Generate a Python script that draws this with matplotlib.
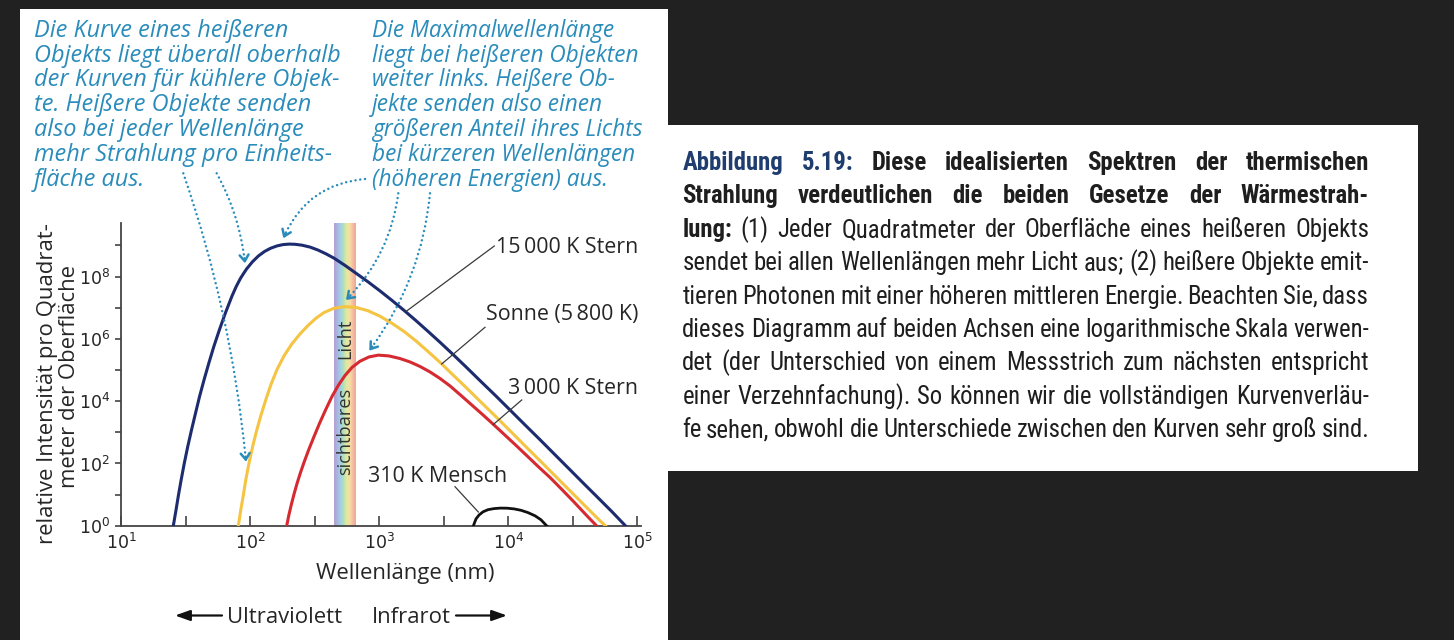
import matplotlib.pyplot as plt
import numpy as np
from matplotlib import font_manager
from matplotlib.patches import Rectangle, FancyArrowPatch
from matplotlib.lines import Line2D
from matplotlib.colors import LinearSegmentedColormap
from matplotlib.ticker import NullFormatter

# Values, as log10(wavelength / nm) and log10(relative intensity)
logwl_15000 = [1.404, 1.425, 1.444, 1.466, 1.489, 1.516, 1.545, 1.576, 1.607, 1.642, 1.679, 1.718, 1.761,
               1.807, 1.857, 1.890, 1.925, 1.971, 2.018, 2.064, 2.111, 2.157, 2.208, 2.254, 2.301, 2.347,
               2.402, 2.464, 2.526, 2.588, 2.650, 2.735, 2.820, 2.913, 3.006, 3.099, 3.192, 3.285, 3.378,
               3.471, 3.564, 3.673, 3.781, 3.898, 4.014, 4.130, 4.247, 4.363, 4.479, 4.595, 4.712, 4.805,
               4.909]
logint_15000 = [0.0, 0.507, 0.989, 1.502, 2.006, 2.546, 3.075, 3.612, 4.144, 4.681, 5.217, 5.753, 6.286,
                6.822, 7.355, 7.666, 7.945, 8.238, 8.475, 8.661, 8.803, 8.905, 8.982, 9.024, 9.040, 9.034,
                9.005, 8.944, 8.848, 8.726, 8.588, 8.356, 8.106, 7.830, 7.538, 7.233, 6.915, 6.584, 6.241,
                5.891, 5.531, 5.098, 4.661, 4.193, 3.717, 3.239, 2.761, 2.279, 1.798, 1.316, 0.835, 0.449,
                0.0]

logwl_5800 = [1.908, 1.927, 1.947, 1.967, 1.991, 2.018, 2.049, 2.084, 2.123, 2.161, 2.208, 2.262, 2.320,
              2.386, 2.448, 2.510, 2.572, 2.650, 2.735, 2.820, 2.913, 3.006, 3.099, 3.192, 3.285, 3.378,
              3.485, 3.564, 3.673, 3.781, 3.898, 4.014, 4.130, 4.247, 4.363, 4.479, 4.595, 4.712, 4.754]
logint_5800 = [0.0, 0.507, 0.989, 1.502, 2.016, 2.530, 3.043, 3.557, 4.071, 4.536, 5.018, 5.451, 5.820,
               6.157, 6.427, 6.661, 6.844, 6.982, 7.034, 7.008, 6.902, 6.726, 6.498, 6.238, 5.933, 5.595,
               5.194, 4.873, 4.440, 4.000, 3.528, 3.050, 2.568, 2.087, 1.605, 1.124, 0.642, 0.161, 0.0]

logwl_3000 = [2.283, 2.299, 2.318, 2.340, 2.363, 2.390, 2.421, 2.456, 2.495, 2.537, 2.584, 2.634, 2.685,
              2.735, 2.789, 2.851, 2.921, 2.993, 3.076, 3.161, 3.239, 3.316, 3.394, 3.471, 3.549, 3.634,
              3.719, 3.805, 3.890, 3.975, 4.061, 4.146, 4.231, 4.324, 4.417, 4.510, 4.603, 4.685]
logint_3000 = [0.0, 0.331, 0.668, 1.021, 1.358, 1.711, 2.080, 2.466, 2.867, 3.284, 3.717, 4.151, 4.520,
               4.825, 5.082, 5.281, 5.419, 5.477, 5.451, 5.368, 5.258, 5.114, 4.937, 4.729, 4.488, 4.183,
               3.872, 3.557, 3.236, 2.909, 2.578, 2.244, 1.907, 1.551, 1.162, 0.764, 0.353, 0.0]

logwl_310 = [3.730, 3.750, 3.774, 3.805, 3.843, 3.890, 3.940, 3.991, 4.045, 4.099, 4.153, 4.208, 4.254, 4.298]
logint_310 = [0.0, 0.218, 0.347, 0.449, 0.517, 0.552, 0.568, 0.565, 0.543, 0.498, 0.424, 0.321, 0.193, 0.0]

visible_nm = [450, 660]
band_colors = ['#b4a2d2', '#a6b7e3', '#a2d1e3', '#b3dfb6', '#e2e9a2', '#f6dca2', '#f4bea1', '#eea795']

x_major = [1e1, 1e2, 1e3, 1e4, 1e5]
x_minor = [31.6, 316, 3162, 31623]
x_labels = [r'$\mathregular{10^{1}}$', r'$\mathregular{10^{2}}$', r'$\mathregular{10^{3}}$',
            r'$\mathregular{10^{4}}$', r'$\mathregular{10^{5}}$']
y_major = [1e0, 1e2, 1e4, 1e6, 1e8]
y_minor = [1e1, 1e3, 1e5, 1e7, 1e9]
y_labels = [r'$\mathregular{10^{0}}$', r'$\mathregular{10^{2}}$', r'$\mathregular{10^{4}}$',
            r'$\mathregular{10^{6}}$', r'$\mathregular{10^{8}}$']

note_left = ['Die Kurve eines heißeren', 'Objekts liegt überall oberhalb', 'der Kurven für kühlere Objek-',
             'te. Heißere Objekte senden', 'also bei jeder Wellenlänge', 'mehr Strahlung pro Einheits-',
             'fläche aus.']
note_right = ['Die Maximalwellenlänge', 'liegt bei heißeren Objekten', 'weiter links. Heißere Ob-',
              'jekte senden also einen', 'größeren Anteil ihres Lichts', 'bei kürzeren Wellenlängen',
              '(höheren Energien) aus.']

caption_lines = [
    [('Abbildung 5.19:', 'title'), ('Diese idealisierten Spektren der thermischen', 'bold')],
    [('Strahlung verdeutlichen die beiden Gesetze der Wärmestrah-', 'bold')],
    [('lung:', 'bold'), ('(1) Jeder Quadratmeter der Oberfläche eines heißeren Objekts', 'reg')],
    [('sendet bei allen Wellenlängen mehr Licht aus; (2) heißere Objekte emit-', 'reg')],
    [('tieren Photonen mit einer höheren mittleren Energie. Beachten Sie, dass', 'reg')],
    [('dieses Diagramm auf beiden Achsen eine logarithmische Skala verwen-', 'reg')],
    [('det (der Unterschied von einem Messstrich zum nächsten entspricht', 'reg')],
    [('einer Verzehnfachung). So können wir die vollständigen Kurvenverläu-', 'reg')],
    [('fe sehen, obwohl die Unterschiede zwischen den Kurven sehr groß sind.', 'reg')],
]


def have_font(name):
    try:
        font_manager.findfont(font_manager.FontProperties(family=name), fallback_to_default=False)
        return True
    except ValueError:
        return False


CHART = ['Open Sans', 'DejaVu Sans']
cap_font = next((f for f in ['Liberation Sans Narrow', 'Roboto Condensed', 'Open Sans Condensed', 'Roboto']
                 if have_font(f)), 'DejaVu Sans')

plt.rcParams['mathtext.fontset'] = 'custom'
plt.rcParams['mathtext.rm'] = 'Open Sans'
plt.rcParams['mathtext.it'] = 'Open Sans:italic'

TEAL = '#2a8cbb'
INK = '#262626'
W, H = 1454, 640


# reference pixel (from top left) -> figure fraction
def fx(x):
    return x / W


def fy(y):
    return 1 - y / H


fig = plt.figure(figsize=(W / 100, H / 100), dpi=100, facecolor='#212121')
renderer = fig.canvas.get_renderer()


def width_px(s, **kw):
    t = fig.text(0, 0, s, **kw)
    w = t.get_window_extent(renderer).width
    t.remove()
    return w


def fit_size(s, target, **kw):
    return 12 * target / width_px(s, fontsize=12, **kw)


# white page areas
fig.add_artist(Rectangle((fx(20), 0), fx(668) - fx(20), fy(9), transform=fig.transFigure,
                         facecolor='white', edgecolor='none', zorder=-10))
fig.add_artist(Rectangle((fx(668), fy(471)), fx(1418) - fx(668), fy(125) - fy(471), transform=fig.transFigure,
                         facecolor='white', edgecolor='none', zorder=-10))

# axes
ax = fig.add_axes([fx(121.2), fy(525.8), fx(641) - fx(121.2), fy(223.3) - fy(525.8)])
ax.patch.set_visible(False)
ax.set_xscale('log')
ax.set_yscale('log')
ax.set_xlim(10, 1.07e5)
ax.set_ylim(1, 5.1e9)

# visible light band
cmap = LinearSegmentedColormap.from_list('vis', band_colors)
edges = np.geomspace(visible_nm[0], visible_nm[1], 61)
for i in range(60):
    ax.axvspan(edges[i], edges[i + 1], color=cmap(i / 59), lw=0, antialiased=False, zorder=1)

curves = [(logwl_15000, logint_15000, '#1d2b6f', 2.2), (logwl_5800, logint_5800, '#f5c443', 2.2),
          (logwl_3000, logint_3000, '#d62a31', 2.2), (logwl_310, logint_310, '#111111', 2.0)]
for lw_, li_, col, lw in curves:
    ax.plot(10 ** np.array(lw_), 10 ** np.array(li_), color=col, lw=lw, zorder=4,
            solid_joinstyle='round')

for side in ['top', 'right']:
    ax.spines[side].set_visible(False)
for side in ['left', 'bottom']:
    ax.spines[side].set_color('#444444')
    ax.spines[side].set_linewidth(1.3)

ax.set_xticks(x_major)
ax.set_xticklabels(x_labels)
ax.set_xticks(x_minor, minor=True)
ax.xaxis.set_minor_formatter(NullFormatter())
ax.set_yticks(y_major)
ax.set_yticklabels(y_labels)
ax.set_yticks(y_minor, minor=True)
ax.yaxis.set_minor_formatter(NullFormatter())
ax.tick_params(axis='x', which='both', direction='in', length=7, width=1.2, color='#444444',
               pad=5, labelsize=12.5, labelcolor=INK)
ax.tick_params(axis='y', which='both', direction='out', length=4, width=1.2, color='#444444',
               pad=4, labelsize=12.5, labelcolor=INK)

# axis labels
ylab_size = fit_size('relative Intensität pro Quadrat-', 318, family=CHART)
fig.text(fx(53.3), fy(384), 'relative Intensität pro Quadrat-', rotation=90, rotation_mode='anchor',
         ha='center', va='baseline', fontsize=ylab_size, family=CHART, color=INK)
fig.text(fx(75), fy(376), 'meter der Oberfläche', rotation=90, rotation_mode='anchor',
         ha='center', va='baseline', fontsize=ylab_size, family=CHART, color=INK)

xlab_size = fit_size('Wellenlänge (nm)', 179, family=CHART)
fig.text(fx(405.5), fy(579.3), 'Wellenlänge (nm)', ha='center', va='baseline',
         fontsize=xlab_size, family=CHART, color=INK)
fig.text(fx(227.3), fy(623.3), 'Ultraviolett', ha='left', va='baseline', fontsize=xlab_size, family=CHART, color=INK)
fig.text(fx(371.7), fy(623.3), 'Infrarot', ha='left', va='baseline', fontsize=xlab_size, family=CHART, color=INK)
for x0, x1 in [(222, 175), (456, 507)]:
    fig.add_artist(FancyArrowPatch((fx(x0), fy(615.5)), (fx(x1), fy(615.5)), transform=fig.transFigure,
                                   arrowstyle='-|>,head_length=0.9,head_width=0.32', mutation_scale=10,
                                   color='#111111', lw=1.6, shrinkA=0, shrinkB=0))

# curve labels and leader lines
lab_size = fit_size('15\u2009000 K Stern', 142, family=CHART)
for txt, yb in [('15\u2009000 K Stern', 253.3), ('Sonne (5\u2009800 K)', 320), ('3\u2009000 K Stern', 394)]:
    fig.text(fx(638), fy(yb), txt, ha='right', va='baseline', fontsize=lab_size, family=CHART, color=INK)
fig.text(fx(507), fy(481.7), '310 K Mensch', ha='right', va='baseline', fontsize=lab_size, family=CHART, color=INK)

for x0, y0, x1, y1 in [(406, 311.5, 494.3, 246), (441.7, 364, 485, 327.3),
                       (493.3, 424.5, 521.7, 400), (478.3, 512, 455, 486.7)]:
    fig.add_artist(Line2D([fx(x0), fx(x1)], [fy(y0), fy(y1)], transform=fig.transFigure,
                          color='#3a3a3a', lw=0.9, zorder=5))

band_size = fit_size('sichtbares', 87, family=CHART)
fig.text(fx(345), fy(431.5), 'sichtbares', rotation=90, ha='center', va='center',
         fontsize=band_size, family=CHART, color='#333333', zorder=6)
fig.text(fx(345), fy(339), 'Licht', rotation=90, ha='center', va='center',
         fontsize=band_size, family=CHART, color='#333333', zorder=6)

# blue notes with dotted pointers
note_l = fit_size('Objekts liegt überall oberhalb', 307.7, family=CHART, style='italic')
note_r = fit_size('liegt bei heißeren Objekten', 266.6, family=CHART, style='italic')
for i, (a, b) in enumerate(zip(note_left, note_right)):
    yb = 36.7 + 24.85 * i
    fig.text(fx(34), fy(yb), a, ha='left', va='baseline', fontsize=note_l, family=CHART,
             style='italic', color=TEAL)
    fig.text(fx(371.7), fy(yb), b, ha='left', va='baseline', fontsize=note_r, family=CHART,
             style='italic', color=TEAL)


def teal_arrow(x0, y0, x1, y1, rad):
    fig.add_artist(FancyArrowPatch((fx(x0), fy(y0)), (fx(x1), fy(y1)), transform=fig.transFigure,
                                   arrowstyle='-', connectionstyle=f'arc3,rad={rad}', color=TEAL, lw=1.8,
                                   linestyle=(0, (0.01, 1.9)), capstyle='round',
                                   shrinkA=0, shrinkB=3, zorder=6))
    # chevron head along the tangent at the end of the arc
    sx, sy, ex, ey = x0, H - y0, x1, H - y1
    cx = (sx + ex) / 2 + rad * (ey - sy)
    cy = (sy + ey) / 2 - rad * (ex - sx)
    n = np.hypot(ex - cx, ey - cy)
    bx, by = ex - 5 * (ex - cx) / n, ey - 5 * (ey - cy) / n
    fig.add_artist(FancyArrowPatch((bx / W, by / H), (ex / W, ey / H), transform=fig.transFigure,
                                   arrowstyle='->,head_length=0.45,head_width=0.32', mutation_scale=10,
                                   color=TEAL, lw=1.8, shrinkA=0, shrinkB=0, zorder=6))


teal_arrow(183.3, 173.3, 246, 461.7, -0.06)
teal_arrow(216.7, 173.3, 245, 263.3, -0.1)
teal_arrow(365, 179, 283.3, 238.3, 0.3)
teal_arrow(398.3, 193.3, 346, 300, -0.17)
teal_arrow(430, 193.3, 369.3, 350.7, -0.14)

# caption, justified word by word; size chosen so the tightest line just fits
styles = {'title': dict(weight='bold', color='#1f3d6e'),
          'bold': dict(weight='bold', color='#1e1e1e'),
          'reg': dict(color='#1e1e1e')}
words = [[(w, st) for seg, st in line for w in seg.split()] for line in caption_lines]
cap_left, cap_right = 682.3, 1369
min_gap = 4.0


def measure(ws, size):
    return [width_px(w, family=cap_font, fontsize=size, **styles[st]) for w, st in ws]


ratio = min((cap_right - cap_left - min_gap * (len(ws) - 1)) / sum(measure(ws, 16)) for ws in words)
cap_size = 16 * ratio

for i, ws in enumerate(words):
    widths = measure(ws, cap_size)
    gap = max(min_gap * 0.7, (cap_right - cap_left - sum(widths)) / (len(ws) - 1))
    x = cap_left
    yb = 170 + 33.4 * i
    for (w, st), wd in zip(ws, widths):
        fig.text(fx(x), fy(yb), w, ha='left', va='baseline', family=cap_font, fontsize=cap_size, **styles[st])
        x += wd + gap

plt.savefig('out.png', dpi=100, facecolor=fig.get_facecolor())
